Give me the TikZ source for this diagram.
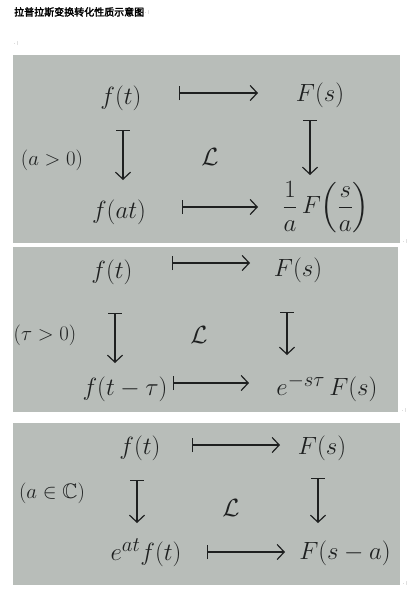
\documentclass[tikz,border=0pt]{standalone}
\usepackage{amsmath,amssymb}
\usepackage{fontspec}
\newfontfamily\cjk[AutoFakeBold=2.5]{Noto Sans CJK SC}
\usetikzlibrary{arrows.meta}
\definecolor{paper}{RGB}{184,189,185}
\definecolor{ink}{RGB}{30,32,32}
\definecolor{fmark}{RGB}{120,120,120}
\begin{document}
\begin{tikzpicture}[x=1pt,y=-1pt,
  hw/.style={text=ink, inner sep=0pt, font=\fontsize{28}{32}\selectfont},
  cond/.style={text=ink, inner sep=0pt, font=\fontsize{21}{25}\selectfont},
  maps/.style={draw=ink, line width=1.2pt, {Bar[width=14pt,line width=1.2pt]}-{Straight Barb[length=7pt,width=15pt,line width=1.2pt]}},
  pmark/.style={text=fmark, inner sep=0pt, font=\fontsize{6}{6}\selectfont},
  panel/.style={fill=paper}]
\useasboundingbox (0,0) rectangle (411,597);
\fill[white] (0,0) rectangle (411,597);
% title
\node[anchor=west, inner sep=0pt, font=\fontsize{10}{12}\selectfont\cjk\bfseries] (title) at (14,12) {拉普拉斯变换转化性质示意图};
\node[pmark, anchor=west] (m0) at (title.east) {.\,\raisebox{0.3ex}{\fontsize{4}{4}\selectfont|}};
\node[pmark] (m1) at (16,43) {.\,\raisebox{0.3ex}{\fontsize{4}{4}\selectfont|}};

% ---------- panel 1 ----------
\fill[panel] (13,55) rectangle (400,243);
\node[pmark] (m2) at (405,241) {.\,\raisebox{0.3ex}{\fontsize{4}{4}\selectfont|}};
\node[hw] (p1ft) at (121,98) {$f(t)$};
\node[hw] (p1Fs) at (320,95) {$F(s)$};
\node[cond] (p1c) at (52,160) {$(a>0)$};
\node[hw] (p1L) at (210,157) {$\mathcal{L}$};
\node[hw] (p1fat) at (119,212) {$f(at)$};
\node[hw] (p1Fa) at (326,207) {$\displaystyle\frac{1}{a}\,F\Bigl(\frac{s}{a}\Bigr)$};
\coordinate (p1h1) at (179,93); \coordinate (p1h2) at (258,93);
\coordinate (p1h3) at (182,207); \coordinate (p1h4) at (258,207);
\coordinate (p1v1) at (123,130); \coordinate (p1v2) at (123,180);
\coordinate (p1v3) at (310,120); \coordinate (p1v4) at (310,175);
\draw[maps] (p1h1) -- (p1h2);
\draw[maps] (p1h3) -- (p1h4);
\draw[maps] (p1v1) -- (p1v2);
\draw[maps] (p1v3) -- (p1v4);

% ---------- panel 2 ----------
\fill[panel] (13,247) rectangle (398,412);
\node[pmark] (m3) at (404,410) {.\,\raisebox{0.3ex}{\fontsize{4}{4}\selectfont|}};
\node[hw] (p2ft) at (112,272) {$f(t)$};
\node[hw] (p2Fs) at (298,270) {$F(s)$};
\node[cond] (p2c) at (45,335) {$(\tau>0)$};
\node[hw] (p2L) at (199,335) {$\mathcal{L}$};
\node[hw] (p2ftt) at (125,389) {$f(t-\tau)$};
\node[hw] (p2eF) at (327,388) {$e^{-s\tau}\,F(s)$};
\coordinate (p2h1) at (172,383); \coordinate (p2h2) at (250,263);
\coordinate (p2h0) at (172,263);
\coordinate (p2h3) at (173,383); \coordinate (p2h4) at (249,383);
\coordinate (p2v1) at (115,313); \coordinate (p2v2) at (115,363);
\coordinate (p2v3) at (287,312); \coordinate (p2v4) at (287,355);
\draw[maps] (p2h0) -- (p2h2);
\draw[maps] (p2h3) -- (p2h4);
\draw[maps] (p2v1) -- (p2v2);
\draw[maps] (p2v3) -- (p2v4);

% ---------- panel 3 ----------
\fill[panel] (13,423) rectangle (400,585);
\node[pmark] (m4) at (405,583) {.\,\raisebox{0.3ex}{\fontsize{4}{4}\selectfont|}};
\node[hw] (p3ft) at (140,448) {$f(t)$};
\node[hw] (p3Fs) at (322,448) {$F(s)$};
\node[cond] (p3c) at (52,493) {$(a\in\mathbb{C})$};
\node[hw] (p3L) at (231,508) {$\mathcal{L}$};
\node[hw] (p3ef) at (146,553) {$e^{at}f(t)$};
\node[hw] (p3Fsa) at (345,553) {$F(s-a)$};
\coordinate (p3h1) at (192,445); \coordinate (p3h2) at (280,445);
\coordinate (p3h3) at (207,552); \coordinate (p3h4) at (285,552);
\coordinate (p3v1) at (137,480); \coordinate (p3v2) at (137,523);
\coordinate (p3v3) at (318,478); \coordinate (p3v4) at (318,523);
\draw[maps] (p3h1) -- (p3h2);
\draw[maps] (p3h3) -- (p3h4);
\draw[maps] (p3v1) -- (p3v2);
\draw[maps] (p3v3) -- (p3v4);
\end{tikzpicture}
\end{document}
